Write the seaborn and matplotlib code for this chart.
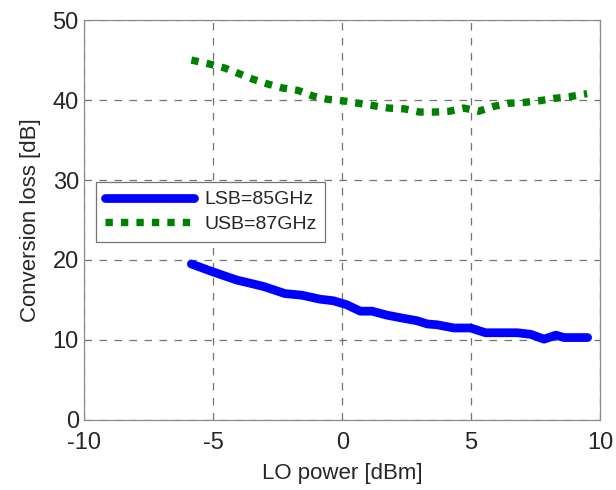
import numpy as np
import pandas as pd
import matplotlib
matplotlib.use("Agg")
import matplotlib.pyplot as plt
import seaborn as sns

# LO power sweep [dBm] and conversion loss [dB]
lsb_power = [-5.85, -5.0, -4.1, -3.06, -2.22, -1.57, -0.86, -0.34, 0.18, 0.7,
             1.16, 1.74, 2.39, 2.91, 3.3, 3.68, 4.33, 4.98, 5.56, 6.8,
             7.32, 7.83, 8.29, 8.61, 9.52]
lsb_loss = [19.5, 18.5, 17.5, 16.7, 15.8, 15.6, 15.1, 14.9, 14.4, 13.6,
            13.6, 13.1, 12.7, 12.4, 12.0, 11.9, 11.5, 11.5, 10.9, 10.9,
            10.7, 10.1, 10.6, 10.3, 10.3]

usb_power = [-5.85, -5.14, -4.55, -4.0, -3.46, -2.88, -2.3, -1.71, -1.13, -0.58,
             0.04, 0.62, 1.21, 1.79, 2.41, 3.0, 3.58, 4.16, 4.71, 5.29,
             5.87, 6.46, 7.04, 7.63, 8.2, 8.79, 9.5]
usb_loss = [45.0, 44.5, 44.0, 43.3, 42.6, 42.0, 41.5, 41.2, 40.5, 40.1,
            39.9, 39.6, 39.3, 39.0, 38.9, 38.5, 38.5, 38.6, 39.0, 38.6,
            39.2, 39.6, 39.7, 39.9, 40.2, 40.4, 40.8]

labels = ["LSB=85GHz", "USB=87GHz"]

lsb = pd.DataFrame({"power": lsb_power, "loss": lsb_loss})
usb = pd.DataFrame({"power": usb_power, "loss": usb_loss})

sns.set_style("white")
plt.rcParams["font.family"] = ["Liberation Sans", "DejaVu Sans"]
plt.rcParams["axes.unicode_minus"] = False

fig = plt.figure(figsize=(6.16, 4.9), dpi=100)
ax = fig.add_axes([0.137, 0.143, 0.837, 0.816])

sns.lineplot(data=lsb, x="power", y="loss", ax=ax, color=(0, 0, 1),
             linewidth=6.3, label=labels[0], sort=False)
sns.lineplot(data=usb, x="power", y="loss", ax=ax, color=(0, 0.5, 0),
             linewidth=5.3, label=labels[1], sort=False)
ax.lines[1].set_linestyle((0, (1, 1.1)))

ax.set_xlim(-10, 10)
ax.set_ylim(0, 50)
ax.set_xticks([-10, -5, 0, 5, 10])
ax.set_yticks([0, 10, 20, 30, 40, 50])
ax.grid(True, linestyle=(0, (6, 6)), color="0.45", linewidth=0.9)
ax.set_axisbelow(True)
for s in ax.spines.values():
    s.set_color("0.55")
    s.set_linewidth(0.9)
ax.tick_params(labelsize=17, length=0)
ax.tick_params(axis="x", pad=9)
ax.tick_params(axis="y", pad=4)

ax.set_xlabel("LO power [dBm]", fontsize=16, labelpad=6)
ax.set_ylabel("Conversion loss [dB]", fontsize=16, labelpad=8)

leg = ax.legend(loc="upper left", bbox_to_anchor=(0.023, 0.595),
                borderaxespad=0, fontsize=14, handlelength=4.6,
                fancybox=False, framealpha=1, edgecolor="0.45",
                borderpad=0.45, labelspacing=0.35, handletextpad=0.5)
leg.get_frame().set_linewidth(0.9)

fig.savefig("out.png", dpi=100)
